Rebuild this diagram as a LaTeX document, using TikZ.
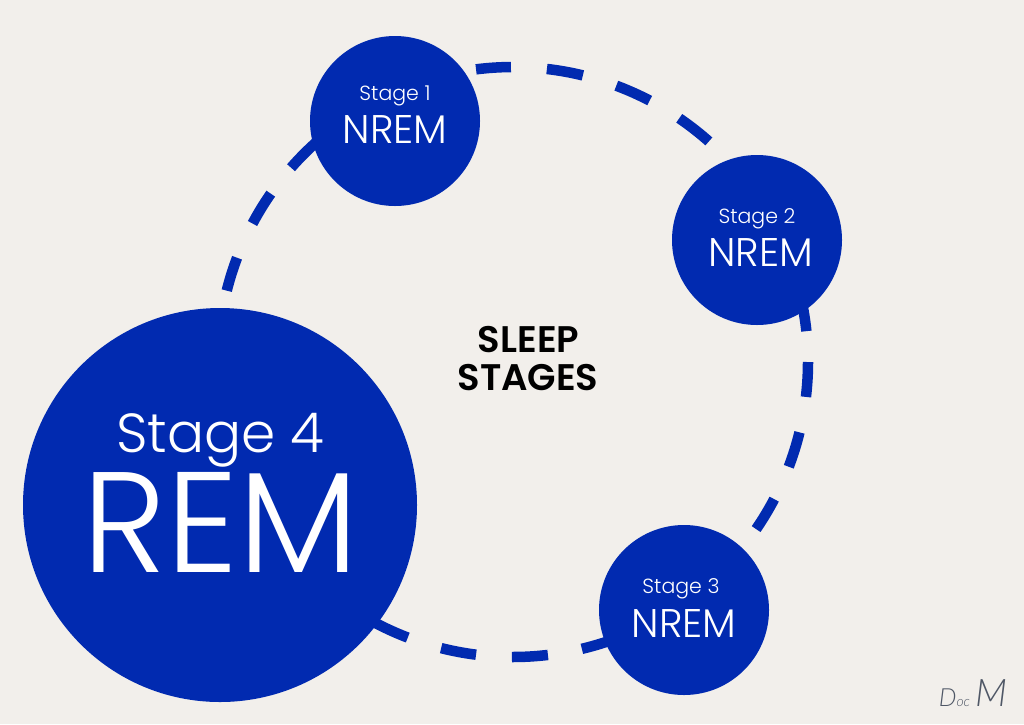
\documentclass[tikz,border=0pt]{standalone}
\usepackage{fontspec}
\setmainfont{Poppins}
\newfontfamily\plight{Poppins Light}
\newfontfamily\psemi{Poppins SemiBold}
\newfontfamily\sigfont{Lato Light Italic}
\definecolor{paper}{HTML}{F2EFEB}
\definecolor{royal}{HTML}{012AB0}
\definecolor{siggrey}{HTML}{4F5766}
\usetikzlibrary{calc}
\tikzset{
  x=1pt,y=-1pt,
  stagedot/.style={circle,fill=royal,inner sep=0pt,minimum size=170pt},
  lbl/.style={text=white,inner sep=0pt,anchor=base},
  dashseg/.style={draw=royal,line width=10.5pt,line cap=butt},
}
\newcommand{\fs}[1]{\fontsize{#1}{#1}\selectfont}
\begin{document}
\begin{tikzpicture}
\useasboundingbox (0,0) rectangle (1024,724);
\fill[paper] (0,0) rectangle (1024,724);
\coordinate (ring) at (513,362);
\foreach \a/\b in {97.2/90.4,83.4/76.3,69.5/62.4,55.7/48.4,10.7/6,0/-6.8,-13.8/-20.8,-27.7/-34.5,-71/-76.5,-83.2/-90.2,-97.2/-104.1,-110.9/-119,166/159.3,152/145.2,138.8/130}{
  \draw[dashseg] ($(ring)+({295*cos(\a)},{-295*sin(\a)})$) arc[start angle=-\a,end angle=-\b,radius=295];
}
\node[stagedot] (s1) at (395,121) {};
\node[stagedot] (s2) at (757,240) {};
\node[stagedot] (s3) at (684,610) {};
\node[stagedot,minimum size=394pt] (s4) at (220,505) {};
\node[lbl,font=\plight\fs{20.5}] (t1) at (395,100.5) {Stage 1};
\node[lbl,font=\plight\fs{40}] (n1) at (395,143) {NREM};
\node[lbl,font=\plight\fs{20.5}] (t2) at (757,223.5) {Stage 2};
\node[lbl,font=\plight\fs{40}] (n2) at (760.5,266) {NREM};
\node[lbl,font=\plight\fs{20.5}] (t3) at (681,593.5) {Stage 3};
\node[lbl,font=\plight\fs{40}] (n3) at (684,637) {NREM};
\node[lbl,font=\plight\fs{55}] (t4) at (220.5,452) {Stage 4};
\node[lbl,font=\plight\fs{143}] (n4) at (221,572) {REM};
\node[inner sep=0pt,anchor=base,font=\psemi\fs{37}] (c1) at (528.5,352) {SLEEP};
\node[inner sep=0pt,anchor=base,font=\psemi\fs{37}] (c2) at (528,390) {STAGES};
\node[inner sep=0pt,anchor=base,text=siggrey,font=\sigfont] (sig) at (973,706) {\fs{25}D\fs{14}oc\hspace{5pt}\fs{38}M};
\end{tikzpicture}
\end{document}
